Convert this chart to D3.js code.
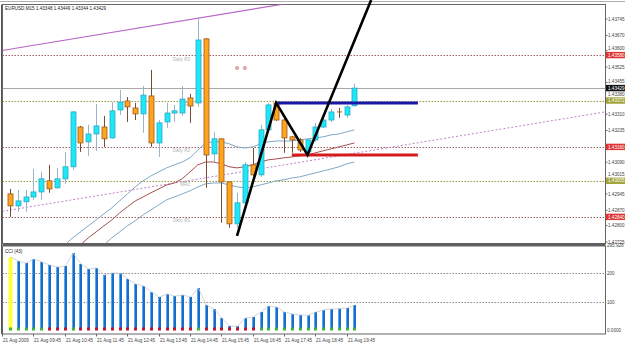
<!DOCTYPE html>
<html>
<head>
<meta charset="utf-8">
<script src="https://cdn.jsdelivr.net/npm/d3@7"></script>
<style>
  body { margin: 0; background: #fff; }
  svg { display: block; }
  text { font-family: "Liberation Sans", Arial, sans-serif; }
</style>
</head>
<body>
<div id="chart"></div>
<script>
// EURUSD M15, 21 Aug 2009, bars 09:00 .. 20:00
const opens  = [1.42945,1.42890,1.42909,1.42931,1.42954,1.43005,1.42973,1.43014,1.43069,1.43251,1.43183,1.43219,1.43251,1.43201,1.43329,1.43370,1.43338,1.43311,1.43393,1.43178,1.43274,1.43315,1.43315,1.43384,1.43361,1.43654,1.43128,1.43197,1.43000,1.42808,1.42904,1.43078,1.43032,1.43238,1.43361,1.43283,1.43206,1.43192,1.43137,1.43192,1.43251,1.43283,1.43320,1.43306,1.43348];
const highs  = [1.42968,1.42963,1.42963,1.43059,1.43046,1.43078,1.43064,1.43137,1.43325,1.43256,1.43261,1.43356,1.43302,1.43365,1.43420,1.43388,1.43361,1.43439,1.43512,1.43283,1.43361,1.43352,1.43439,1.43402,1.43754,1.43658,1.43229,1.43197,1.43000,1.42950,1.43091,1.43155,1.43261,1.43361,1.43365,1.43293,1.43210,1.43201,1.43201,1.43270,1.43302,1.43334,1.43338,1.43352,1.43449];
const lows   = [1.42840,1.42863,1.42863,1.42918,1.42918,1.42950,1.42968,1.42991,1.43055,1.43137,1.43119,1.43142,1.43160,1.43197,1.43306,1.43274,1.43283,1.43224,1.43160,1.43114,1.43247,1.43274,1.43302,1.43270,1.43343,1.42973,1.43091,1.42813,1.42790,1.42790,1.42895,1.43027,1.43023,1.43233,1.43279,1.43133,1.43133,1.43137,1.43123,1.43183,1.43247,1.43274,1.43293,1.43293,1.43344];
const closes = [1.42890,1.42913,1.42931,1.42954,1.43014,1.42968,1.43014,1.43069,1.43320,1.43178,1.43219,1.43256,1.43197,1.43325,1.43365,1.43343,1.43311,1.43397,1.43178,1.43270,1.43315,1.43325,1.43379,1.43347,1.43649,1.43123,1.43197,1.43000,1.42808,1.42904,1.43078,1.43032,1.43238,1.43352,1.43283,1.43201,1.43192,1.43146,1.43192,1.43251,1.43283,1.43320,1.43315,1.43343,1.43429];

// band lines (first bar index, values)
const upperStart = 7;
const upperBand = [1.42712,1.42744,1.42771,1.42799,1.42826,1.42854,1.42881,1.42913,1.42945,1.42977,1.43005,1.43027,1.43046,1.43064,1.43078,1.43091,1.43110,1.43146,1.43178,1.43183,1.43183,1.43174,1.43160,1.43155,1.43160,1.43174,1.43183,1.43187,1.43187,1.43187,1.43192,1.43197,1.43201,1.43206,1.43215,1.43219,1.43229,1.43238];
const midStart = 9;
const midBand = [1.42712,1.42744,1.42771,1.42799,1.42826,1.42858,1.42886,1.42913,1.42931,1.42950,1.42968,1.42986,1.42995,1.43014,1.43046,1.43078,1.43091,1.43091,1.43082,1.43069,1.43064,1.43069,1.43078,1.43091,1.43101,1.43105,1.43110,1.43114,1.43119,1.43123,1.43133,1.43142,1.43151,1.43160,1.43169,1.43178];
const lowerStart = 12;
const lowerBand = [1.42712,1.42744,1.42771,1.42799,1.42822,1.42849,1.42872,1.42895,1.42918,1.42931,1.42945,1.42959,1.42977,1.42991,1.42995,1.42995,1.42986,1.42977,1.42973,1.42977,1.42986,1.42995,1.43005,1.43009,1.43018,1.43023,1.43032,1.43041,1.43050,1.43059,1.43069,1.43082,1.43091];

// CCI(43) histogram
const cci = [255.3,241.5,234.6,248.4,238.0,227.7,220.8,224.2,269.1,231.1,213.9,217.3,193.2,200.1,199.5,179.4,162.1,155.2,134.5,117.3,127.6,120.7,124.2,117.3,148.3,89.7,75.9,44.8,17.2,16.5,44.8,48.3,65.5,86.2,82.8,65.5,58.6,55.2,54.0,65.5,72.4,75.9,77.0,79.3,89.7];
const cciDots = "gggggrrrgrrrrrrrrrrrrrrrgrrrrrrrggggggggggggg";

// levels
const levelPrices = [1.43580, 1.43372, 1.43160, 1.43005, 1.42840];
const levelNames  = ["Daily R3", "MR3", "Daily R2", "MR2", "Daily R1"];
const levelKinds  = ["r", "m", "r", "m", "r"];
const bidPrice = 1.43429;

// drawn objects
const zigIdx   = [29, 34, 38, 46.13];
const zigPrice = [1.42753, 1.43361, 1.43123, 1.43832];
const blueLine = { from: 34, to: 52.1, price: 1.43361 };
const redLine  = { from: 36, to: 52.1, price: 1.43123 };
const chanIdx  = [-1, 76];
const chanTop  = [1.43601, 1.44056];
const chanLow  = [1.42865, 1.43320];
const dotIdx   = [29, 30];
const dotPrice = [1.43521, 1.43521];

// axis labels
const priceTicks = ["1.43745","1.43670","1.43600","1.43525","1.43455","1.43380","1.43310","1.43235","1.43090","1.43015","1.42945","1.42870","1.42800","1.42725"];
const timeIdx    = [-1, 3, 7, 11, 15, 19, 23, 27, 31, 35, 39, 43];
const timeLabels = ["21 Aug 2009","21 Aug 09:45","21 Aug 10:45","21 Aug 11:45","21 Aug 12:45","21 Aug 13:45","21 Aug 14:45","21 Aug 15:45","21 Aug 16:45","21 Aug 17:45","21 Aug 18:45","21 Aug 19:45"];
const cciTicks   = [295.928, 200, 100, 0];
const cciTickLabels = ["295.928", "200", "100", "0.0000"];

const W = 625, H = 344;
const left = 2.5, right = 605.5, mainTop = 4.5, mainBottom = 243.5, subTop = 246, subBottom = 334;

const x  = d3.scaleLinear().domain([0, 76]).range([10, 605]);
const y  = d3.scaleLinear().domain([1.42725, 1.43745]).range([242, 19]);
const yc = d3.scaleLinear().domain([0, 295.928]).range([331, 245.2]);

const svg = d3.select("#chart").append("svg")
  .attr("width", W).attr("height", H);

svg.append("defs").append("clipPath").attr("id", "mainclip")
  .append("rect").attr("x", left).attr("y", mainTop)
  .attr("width", right - left).attr("height", mainBottom - mainTop);

// window frame
svg.append("line").attr("x1", 0).attr("x2", W).attr("y1", 1.5).attr("y2", 1.5)
  .attr("stroke", "#b0b0b0");
svg.append("rect").attr("x", left).attr("y", mainTop)
  .attr("width", right - left).attr("height", mainBottom - mainTop)
  .attr("fill", "#fff").attr("stroke", "#666");
svg.append("line").attr("x1", 1.5).attr("x2", 1.5).attr("y1", mainTop).attr("y2", subBottom)
  .attr("stroke", "#555");
svg.append("rect").attr("x", left).attr("y", mainBottom)
  .attr("width", right - left).attr("height", subTop - mainBottom)
  .attr("fill", "#5c5c5c");
svg.append("rect").attr("x", left).attr("y", subTop)
  .attr("width", right - left).attr("height", subBottom - subTop)
  .attr("fill", "#fff").attr("stroke", "#666");

const main = svg.append("g").attr("clip-path", "url(#mainclip)");

// level lines
levelPrices.forEach((p, i) => {
  main.append("line")
    .attr("x1", left).attr("x2", right)
    .attr("y1", Math.round(y(p)) + 0.5).attr("y2", Math.round(y(p)) + 0.5)
    .attr("stroke", levelKinds[i] === "r" ? "#a06060" : "#9a9a40")
    .attr("stroke-dasharray", "1.5,1.5");
  main.append("text")
    .attr("x", 190).attr("y", y(p) + 5.5)
    .attr("text-anchor", "end")
    .attr("font-size", 4.6).attr("fill", "#b4b4b4")
    .text(levelNames[i]);
});
main.append("line")
  .attr("x1", left).attr("x2", right)
  .attr("y1", Math.round(y(bidPrice)) + 0.5).attr("y2", Math.round(y(bidPrice)) + 0.5)
  .attr("stroke", "#a8a8a8");

// channel
main.append("line")
  .attr("x1", x(chanIdx[0])).attr("y1", y(chanTop[0]))
  .attr("x2", x(chanIdx[1])).attr("y2", y(chanTop[1]))
  .attr("stroke", "#b868c8").attr("stroke-width", 1.2);
main.append("line")
  .attr("x1", x(chanIdx[0])).attr("y1", y(chanLow[0]))
  .attr("x2", x(chanIdx[1])).attr("y2", y(chanLow[1]))
  .attr("stroke", "#c080c8").attr("stroke-dasharray", "2,2");

// bands
function bandLine(start, vals, color) {
  const line = d3.line().x((d, i) => x(start + i)).y(d => y(d));
  main.append("path").datum(vals)
    .attr("d", line).attr("fill", "none")
    .attr("stroke", color).attr("stroke-width", 1);
}
bandLine(upperStart, upperBand, "#7fa8c4");
bandLine(midStart, midBand, "#a45050");
bandLine(lowerStart, lowerBand, "#7fa8c4");

// candles
opens.forEach((o, i) => {
  const c = closes[i];
  const bull = c >= o;
  const cx = Math.round(x(i)) + 0.5;
  main.append("line")
    .attr("x1", cx).attr("x2", cx)
    .attr("y1", y(highs[i])).attr("y2", y(lows[i]))
    .attr("stroke", bull ? "#98b4c6" : "#7a4a34");
  const top = y(Math.max(o, c)), bot = y(Math.min(o, c));
  if (bot - top < 1.2) {
    main.append("line")
      .attr("x1", cx - 2.5).attr("x2", cx + 2.5)
      .attr("y1", top).attr("y2", top)
      .attr("stroke", bull ? "#2aa8c0" : "#b0602a");
  } else {
    main.append("rect")
      .attr("x", cx - 2.5).attr("y", top)
      .attr("width", 5).attr("height", bot - top)
      .attr("fill", bull ? "#1ce8f8" : "#ffa41c")
      .attr("stroke", bull ? "#30a8c0" : "#9a5a1a")
      .attr("stroke-width", 0.8);
  }
});

// small markers
dotIdx.forEach((d, i) => {
  main.append("circle").attr("cx", x(d)).attr("cy", y(dotPrice[i])).attr("r", 1.6)
    .attr("fill", "#e8b0b0").attr("stroke", "#c88080").attr("stroke-width", 0.6);
});

// horizontal marks
[[blueLine, "#1818a8"], [redLine, "#d41c1c"]].forEach(([l, col]) => {
  main.append("line")
    .attr("x1", x(l.from)).attr("x2", x(l.to))
    .attr("y1", y(l.price)).attr("y2", y(l.price))
    .attr("stroke", col).attr("stroke-width", 3);
});

// zigzag
svg.append("path")
  .datum(zigIdx.map((d, i) => [d, zigPrice[i]]))
  .attr("d", d3.line().x(d => x(d[0])).y(d => y(d[1])))
  .attr("fill", "none").attr("stroke", "#000").attr("stroke-width", 2.6)
  .attr("stroke-linejoin", "miter");

// title
svg.append("text").attr("x", 5).attr("y", 9.5)
  .attr("font-size", 4.6).attr("fill", "#222")
  .text("EURUSD,M15  1.43348 1.43449 1.43344 1.43429");

// price axis
const boxPrices = levelPrices.concat([bidPrice]);
priceTicks.forEach(t => {
  let py = y(+t);
  svg.append("line").attr("x1", right).attr("x2", right + 2)
    .attr("y1", py).attr("y2", py).attr("stroke", "#666");
  // keep the tick text clear of a price box just below it
  boxPrices.forEach(b => {
    const by = y(b);
    if (by >= py && by - py < 6.5) py = by - 6.6;
  });
  svg.append("text").attr("x", 608).attr("y", py + 1.7)
    .attr("font-size", 4.6).attr("fill", "#444").text(t);
});
function priceBox(p, fill, txt) {
  const py = y(p);
  svg.append("rect").attr("x", 606).attr("y", py - 3.2)
    .attr("width", 19).attr("height", 6.4).attr("fill", fill);
  svg.append("text").attr("x", 608).attr("y", py + 1.7)
    .attr("font-size", 4.6).attr("fill", txt).text(p.toFixed(5));
}
levelPrices.forEach((p, i) => {
  priceBox(p, levelKinds[i] === "r" ? "#e03434" : "#a4a43c", "#fff");
});
priceBox(bidPrice, "#111", "#fff");

// CCI panel
[200, 100].forEach(v => {
  svg.append("line").attr("x1", left).attr("x2", right)
    .attr("y1", Math.round(yc(v)) + 0.5).attr("y2", Math.round(yc(v)) + 0.5)
    .attr("stroke", "#8a8a8a").attr("stroke-dasharray", "1.5,1.5");
});
cci.forEach((v, i) => {
  const bx = Math.round(x(i));
  if (i === 0) {
    svg.append("rect").attr("x", bx - 1.5).attr("y", yc(v))
      .attr("width", 4).attr("height", yc(0) - yc(v) - 1).attr("fill", "#ffff3c");
  } else {
    svg.append("rect").attr("x", bx - 1).attr("y", yc(v))
      .attr("width", 3).attr("height", yc(0) - yc(v) - 1).attr("fill", "#1a6ccc");
    svg.append("rect").attr("x", bx - 1).attr("y", yc(v))
      .attr("width", 1).attr("height", yc(0) - yc(v) - 1).attr("fill", "#58a8ee");
  }
  svg.append("rect").attr("x", bx - 1).attr("y", 327.5)
    .attr("width", 3).attr("height", 3)
    .attr("fill", cciDots[i] === "g" ? "#3cb43c" : "#c0142c");
});
svg.append("path").datum(cci)
  .attr("d", d3.line().x((d, i) => x(i) + 0.5).y(d => yc(d)))
  .attr("fill", "none").attr("stroke", "#c4ccd4").attr("stroke-width", 0.8);
svg.append("text").attr("x", 5).attr("y", 252.5)
  .attr("font-size", 4.6).attr("fill", "#222").text("CCI (43)");
cciTicks.forEach((v, i) => {
  svg.append("text").attr("x", 607).attr("y", Math.min(yc(v) + 2, 332))
    .attr("font-size", 4.6).attr("fill", "#444").text(cciTickLabels[i]);
});

// time axis
timeIdx.forEach((d, i) => {
  const tx = Math.round(x(d)) + 0.5;
  svg.append("line").attr("x1", tx).attr("x2", tx)
    .attr("y1", subBottom).attr("y2", subBottom + 2.5).attr("stroke", "#666");
  svg.append("text").attr("x", tx + 0.5).attr("y", 341.5)
    .attr("font-size", 4.6).attr("fill", "#444").text(timeLabels[i]);
});
</script>
</body>
</html>
